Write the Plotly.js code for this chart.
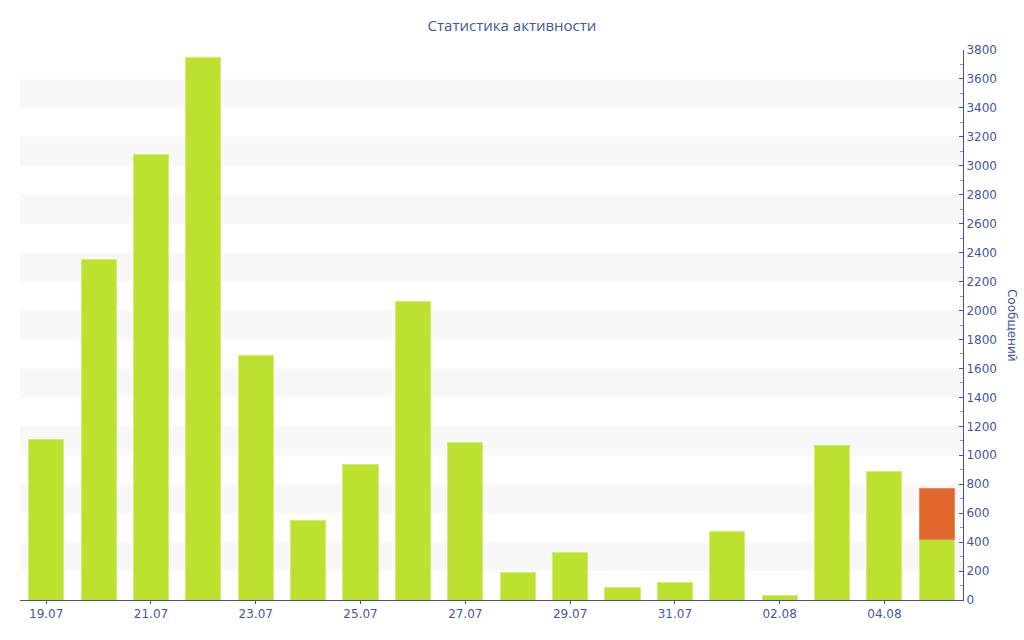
<!DOCTYPE html>
<html>
<head>
<meta charset="utf-8">
<script src="https://cdn.plot.ly/plotly-3.0.1.min.js"></script>
<style>
  html, body { margin: 0; padding: 0; background: #fff; }
  #chart { width: 1024px; height: 640px; }
</style>
</head>
<body>
<div id="chart"></div>
<script>
// days shown on the x axis
var days = ['19.07', '20.07', '21.07', '22.07', '23.07', '24.07', '25.07', '26.07', '27.07',
            '28.07', '29.07', '30.07', '31.07', '01.08', '02.08', '03.08', '04.08', '05.08'];
// messages per day (green) and the extra part of the last day (orange)
var messages = [1110, 2355, 3080, 3745, 1690, 550, 935, 2060, 1090,
                190, 330, 85, 120, 475, 30, 1065, 890, 415];
var extra = [null, null, null, null, null, null, null, null, null,
             null, null, null, null, null, null, null, null, 355];
// labelled days on the x axis
var dayTicks = ['19.07', '21.07', '23.07', '25.07', '27.07', '29.07', '31.07', '02.08', '04.08'];
var yMax = 3800;

var axisColor = '#3f51a0';
var textColor = '#44579e';

var main = {
  x: days,
  y: messages,
  type: 'bar',
  marker: { color: '#bde12f', line: { color: '#d3ec78', width: 1 } },
  hoverinfo: 'x+y'
};

var rest = {
  x: days,
  y: extra,
  type: 'bar',
  marker: { color: '#e0662e', line: { color: '#e98a5c', width: 1 } },
  hoverinfo: 'x+y'
};

// light grey bands every other 200 step
var bands = [];
for (var v = 200; v < yMax; v += 400) {
  bands.push({
    type: 'rect', xref: 'paper', yref: 'y', x0: 0, x1: 1, y0: v, y1: v + 200,
    fillcolor: '#f8f8f8', line: { width: 0 }, layer: 'below'
  });
}

var layout = {
  width: 1024,
  height: 640,
  margin: { l: 20, r: 61, t: 50, b: 40 },
  paper_bgcolor: '#ffffff',
  plot_bgcolor: '#ffffff',
  showlegend: false,
  barmode: 'stack',
  bargap: 0.33,
  font: { family: 'DejaVu Sans, Verdana, sans-serif', size: 12, color: textColor },
  title: {
    text: 'Статистика активности',
    font: { family: 'Open Sans, sans-serif', size: 15, color: textColor },
    x: 0.5, xanchor: 'center', y: 0.96, yanchor: 'middle'
  },
  xaxis: {
    type: 'category',
    range: [-0.5, days.length - 0.5],
    tickvals: dayTicks,
    ticktext: dayTicks,
    ticks: 'outside', ticklen: 3, tickcolor: axisColor,
    showline: true, linecolor: axisColor, linewidth: 1,
    showgrid: false, zeroline: false,
    tickfont: { size: 12, color: textColor }
  },
  yaxis: {
    side: 'right',
    range: [0, yMax],
    dtick: 200,
    ticks: 'inside', ticklen: 4, tickcolor: axisColor,
    minor: { dtick: 100, ticks: 'inside', ticklen: 3, tickcolor: '#8a94c0', showgrid: false },
    showline: true, linecolor: axisColor, linewidth: 1,
    showgrid: false, zeroline: false,
    ticklabelstandoff: 0,
    tickfont: { size: 12, color: textColor }
  },
  shapes: bands,
  annotations: [{
    text: 'Сообщений', xref: 'paper', yref: 'paper', x: 1.052, y: 0.5,
    xanchor: 'center', yanchor: 'middle', textangle: 90, showarrow: false,
    font: { size: 12, color: textColor }
  }]
};

Plotly.newPlot('chart', [main, rest], layout, { displayModeBar: false });
</script>
</body>
</html>
